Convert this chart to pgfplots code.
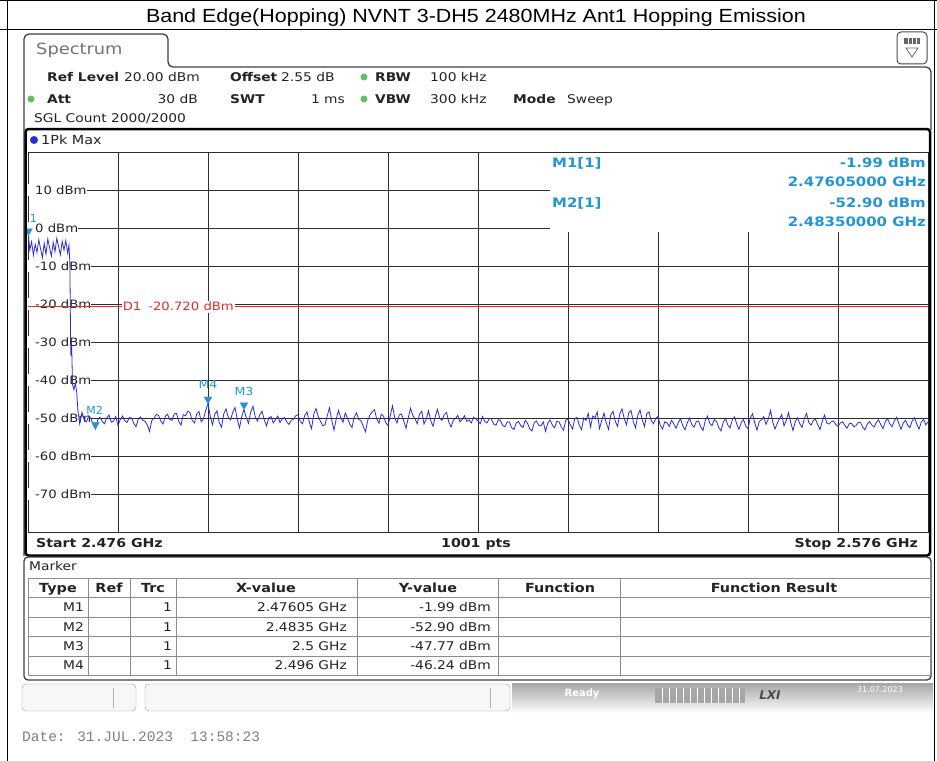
\documentclass[border=0pt]{standalone}
\usepackage{fontspec}
\setmainfont{DejaVu Sans}
\newfontfamily\arialf{Liberation Sans}
\newfontfamily\monof{Liberation Mono}
\usepackage{graphicx}
\usepackage{pgfplots}
\pgfplotsset{compat=1.18}
\definecolor{trc}{RGB}{45,45,215}
\definecolor{mk}{RGB}{35,150,210}
\definecolor{dl}{RGB}{225,45,45}
\definecolor{grd}{RGB}{45,45,45}
\definecolor{stx}{RGB}{35,35,35}
\definecolor{gdot}{RGB}{100,190,100}
\newcommand\fs[1]{\fontsize{#1bp}{#1bp}\selectfont}
\newcommand\st[1]{\scalebox{1.15}[1]{#1}}
\tikzset{ylab/.style={anchor=mid west,fill=white,inner xsep=0pt,inner ysep=1.5bp,font=\fs{11.5},text=stx,yshift=-1.5bp}}
\pgfplotstableread{
x y
2476.00 -3.2
2476.05 -1.99
2476.20 -5.8
2476.40 -3.6
2476.60 -7.1
2476.80 -4.3
2477.00 -6.4
2477.20 -3.1
2477.40 -5.5
2477.60 -7.8
2477.80 -4.0
2478.00 -6.9
2478.20 -2.9
2478.40 -5.2
2478.60 -7.4
2478.80 -3.8
2479.00 -6.2
2479.20 -2.7
2479.40 -4.9
2479.60 -7.0
2479.80 -3.5
2480.00 -5.8
2480.20 -3.3
2480.40 -6.6
2480.55 -4.5
2480.65 -9.0
2480.75 -33.5
2480.85 -31.0
2480.95 -41.2
2481.10 -42.6
2481.25 -40.8
2481.40 -42.9
2481.55 -48.2
2481.75 -51.6
2482.00 -48.5
2482.25 -50.6
2482.50 -51.0
2482.75 -49.4
2483.00 -50.2
2483.25 -51.7
2483.50 -52.9
2483.75 -50.5
2484.00 -49.8
2484.25 -50.9
2484.50 -51.5
2484.75 -50.0
2485.00 -49.2
2485.25 -51.1
2485.50 -50.8
2485.75 -49.6
2486.00 -52.0
2486.25 -50.4
2486.50 -49.5
2486.75 -50.7
2487.00 -51.2
2487.25 -49.9
2487.50 -50.0
2487.75 -51.4
2488.00 -52.3
2488.25 -50.3
2488.50 -49.7
2488.75 -50.6
2489.00 -50.9
2489.25 -51.8
2489.50 -53.5
2489.75 -50.7
2490.00 -50.1
2490.25 -49.0
2490.50 -49.3
2490.75 -50.8
2491.00 -51.6
2491.25 -49.6
2491.50 -49.0
2491.75 -50.4
2492.00 -50.6
2492.25 -48.9
2492.50 -48.8
2492.75 -50.9
2493.00 -51.9
2493.25 -49.1
2493.50 -49.4
2493.75 -48.2
2494.00 -48.6
2494.25 -50.7
2494.50 -51.3
2494.75 -48.9
2495.00 -48.3
2495.25 -51.0
2495.50 -50.2
2495.75 -48.0
2496.00 -46.24
2496.25 -49.5
2496.50 -51.8
2496.75 -49.0
2497.00 -48.1
2497.25 -51.2
2497.50 -52.4
2497.75 -48.9
2498.00 -47.6
2498.25 -49.8
2498.50 -50.5
2498.75 -48.5
2499.00 -47.2
2499.25 -50.3
2499.50 -52.6
2499.75 -49.6
2500.00 -47.77
2500.25 -49.9
2500.50 -51.4
2500.75 -48.4
2501.00 -46.9
2501.25 -49.7
2501.50 -50.8
2501.75 -49.2
2502.00 -48.2
2502.25 -50.5
2502.50 -52.1
2502.75 -50.0
2503.00 -49.6
2503.25 -51.3
2503.50 -50.4
2503.75 -49.5
2504.00 -51.2
2504.25 -50.2
2504.50 -49.9
2504.75 -51.0
2505.00 -51.7
2505.25 -50.6
2505.50 -50.3
2505.75 -49.4
2506.00 -49.1
2506.25 -50.9
2506.50 -51.5
2506.75 -49.3
2507.00 -48.4
2507.25 -51.0
2507.50 -52.8
2507.75 -49.0
2508.00 -47.5
2508.25 -49.6
2508.50 -50.9
2508.75 -52.0
2509.00 -51.8
2509.25 -49.4
2509.50 -47.3
2509.75 -50.6
2510.00 -53.2
2510.25 -50.2
2510.50 -48.0
2510.75 -49.9
2511.00 -51.1
2511.25 -48.7
2511.50 -50.0
2511.75 -51.6
2512.00 -52.5
2512.25 -49.8
2512.50 -48.6
2512.75 -50.4
2513.00 -50.7
2513.25 -52.2
2513.50 -53.6
2513.75 -50.6
2514.00 -49.2
2514.25 -48.3
2514.50 -47.8
2514.75 -50.3
2515.00 -51.4
2515.25 -49.0
2515.50 -49.5
2515.75 -51.2
2516.00 -52.0
2516.25 -49.4
2516.50 -46.8
2516.75 -49.9
2517.00 -51.3
2517.25 -49.2
2517.50 -48.9
2517.75 -50.8
2518.00 -52.7
2518.25 -50.0
2518.50 -47.4
2518.75 -49.3
2519.00 -50.2
2519.25 -51.5
2519.50 -49.0
2519.75 -48.2
2520.00 -51.6
2520.25 -50.3
2520.50 -48.1
2520.75 -50.7
2521.00 -52.2
2521.25 -49.6
2521.50 -47.7
2521.75 -50.1
2522.00 -50.6
2522.25 -49.1
2522.50 -48.5
2522.75 -51.0
2523.00 -52.4
2523.25 -50.6
2523.50 -50.1
2523.75 -49.3
2524.00 -51.0
2524.25 -50.4
2524.50 -49.4
2524.75 -50.9
2525.00 -50.5
2525.25 -51.3
2525.50 -49.8
2525.75 -50.2
2526.00 -50.8
2526.25 -51.5
2526.50 -49.6
2526.75 -50.9
2527.00 -51.3
2527.25 -50.1
2527.50 -50.3
2527.75 -51.6
2528.00 -51.9
2528.25 -50.4
2528.50 -50.7
2528.75 -52.0
2529.00 -52.3
2529.25 -51.0
2529.50 -51.1
2529.75 -52.6
2530.00 -53.0
2530.25 -51.3
2530.50 -50.9
2530.75 -52.0
2531.00 -52.5
2531.25 -50.6
2531.50 -51.4
2531.75 -52.9
2532.00 -53.4
2532.25 -51.2
2532.50 -50.8
2532.75 -51.9
2533.00 -52.1
2533.25 -51.0
2533.50 -53.5
2533.75 -51.4
2534.00 -50.5
2534.25 -51.8
2534.50 -52.6
2534.75 -50.9
2535.00 -51.0
2535.25 -52.3
2535.50 -53.2
2535.75 -50.6
2536.00 -50.3
2536.25 -51.7
2536.50 -52.9
2536.75 -50.2
2537.00 -49.8
2537.25 -51.9
2537.50 -53.1
2537.75 -50.0
2538.00 -50.6
2538.25 -48.8
2538.50 -52.4
2538.75 -49.5
2539.00 -49.9
2539.25 -48.4
2539.50 -52.8
2539.75 -50.6
2540.00 -48.7
2540.25 -51.3
2540.50 -53.0
2540.75 -49.2
2541.00 -48.2
2541.25 -50.8
2541.50 -52.2
2541.75 -49.0
2542.00 -47.6
2542.25 -50.2
2542.50 -51.8
2542.75 -48.6
2543.00 -48.0
2543.25 -50.9
2543.50 -52.6
2543.75 -49.3
2544.00 -47.9
2544.25 -50.5
2544.50 -52.3
2544.75 -48.8
2545.00 -48.4
2545.25 -50.7
2545.50 -51.5
2545.75 -50.1
2546.00 -49.6
2546.25 -51.9
2546.50 -52.9
2546.75 -51.0
2547.00 -51.3
2547.25 -52.2
2547.50 -50.6
2547.75 -51.5
2548.00 -52.7
2548.25 -51.2
2548.50 -50.2
2548.75 -52.0
2549.00 -53.1
2549.25 -51.3
2549.50 -50.0
2549.75 -51.7
2550.00 -52.4
2550.25 -51.0
2550.50 -50.8
2550.75 -52.3
2551.00 -53.3
2551.25 -50.7
2551.50 -49.5
2551.75 -51.4
2552.00 -52.0
2552.25 -50.4
2552.50 -50.9
2552.75 -52.5
2553.00 -53.4
2553.25 -51.1
2553.50 -50.1
2553.75 -51.8
2554.00 -52.6
2554.25 -50.5
2554.50 -49.7
2554.75 -51.6
2555.00 -53.0
2555.25 -51.2
2555.50 -50.4
2555.75 -52.1
2556.00 -52.8
2556.25 -50.0
2556.50 -48.9
2556.75 -51.3
2557.00 -53.2
2557.25 -50.9
2557.50 -50.5
2557.75 -49.6
2558.00 -51.7
2558.25 -50.3
2558.50 -48.0
2558.75 -51.1
2559.00 -52.9
2559.25 -51.4
2559.50 -50.2
2559.75 -49.1
2560.00 -52.1
2560.25 -50.6
2560.50 -48.6
2560.75 -51.2
2561.00 -53.3
2561.25 -51.0
2561.50 -49.9
2561.75 -51.5
2562.00 -52.5
2562.25 -50.2
2562.50 -48.8
2562.75 -51.1
2563.00 -51.9
2563.25 -50.7
2563.50 -50.3
2563.75 -51.8
2564.00 -53.0
2564.25 -50.9
2564.50 -49.2
2564.75 -51.3
2565.00 -51.6
2565.25 -51.0
2565.50 -50.8
2565.75 -51.7
2566.00 -52.2
2566.25 -51.3
2566.50 -51.0
2566.75 -51.9
2567.00 -52.7
2567.25 -51.5
2567.50 -51.4
2567.75 -52.3
2568.00 -52.0
2568.25 -51.1
2568.50 -51.2
2568.75 -52.4
2569.00 -53.1
2569.25 -51.6
2569.50 -50.9
2569.75 -51.8
2570.00 -52.4
2570.25 -51.2
2570.50 -50.5
2570.75 -51.7
2571.00 -52.8
2571.25 -51.0
2571.50 -50.1
2571.75 -51.5
2572.00 -52.3
2572.25 -50.8
2572.50 -49.8
2572.75 -51.4
2573.00 -53.0
2573.25 -51.3
2573.50 -50.6
2573.75 -51.9
2574.00 -52.5
2574.25 -50.7
2574.50 -49.9
2574.75 -51.6
2575.00 -52.9
2575.25 -51.1
2575.50 -50.3
2575.75 -51.8
2576.00 -51.0
}\trace
\begin{document}
\begin{tikzpicture}[x=1bp,y=-1bp,t/.style={inner sep=0pt,text=stx,yshift=-2bp}]
\useasboundingbox (0,0) rectangle (937,761);
\fill[white] (0,0) rectangle (937,761);
% document frame
\draw[line width=0.8bp] (0,0.5) -- (937,0.5);
\draw[line width=0.8bp] (0,29.5) -- (937,29.5);
\draw[line width=0.8bp] (7.5,0) -- (7.5,761);
\draw[line width=0.8bp] (934.5,0) -- (934.5,761);
\node[inner sep=0pt,font=\arialf\fs{19}] at (476,17.5) {\scalebox{1.13}[1]{Band Edge(Hopping) NVNT 3-DH5 2480MHz Ant1 Hopping Emission}};
\fill[white] (19,31) rectangle (933,716);
% tab and panel
\draw[line width=1.3bp,black!75,rounded corners=5bp] (24,556) -- (24,34) -- (168,34) -- (168,67) -- (931,67) -- (931,130);
\node[t,anchor=mid west,font=\fs{15.5},text=black!55] at (36,50) {\st{Spectrum}};
\draw[line width=1bp,black!70,rounded corners=4bp,fill=white] (897,32) rectangle (927,64);
\fill[black!60] (904,38) rectangle (920,44);
\draw[white,line width=0.8bp] (908,38)--(908,44) (912,38)--(912,44) (916,38)--(916,44);
\draw[black!60,line width=0.8bp] (906,48) -- (918,48) -- (912,57) -- cycle;
% header
\node[t,anchor=mid west,font=\fs{12}\bfseries] at (47,77) {\st{Ref Level}};
\node[t,anchor=mid west,font=\fs{12}] at (124,77) {\st{20.00 dBm}};
\node[t,anchor=mid west,font=\fs{12}\bfseries] at (230,77) {\st{Offset}};
\node[t,anchor=mid west,font=\fs{12}] at (281,77) {\st{2.55 dB}};
\fill[gdot] (364,77) circle (3.5);
\node[t,anchor=mid west,font=\fs{12}\bfseries] at (375,77) {\st{RBW}};
\node[t,anchor=mid west,font=\fs{12}] at (430,77) {\st{100 kHz}};
\fill[gdot] (31,99) circle (3.5);
\node[t,anchor=mid west,font=\fs{12}\bfseries] at (47,99) {\st{Att}};
\node[t,anchor=mid east,font=\fs{12}] at (198,99) {\st{30 dB}};
\node[t,anchor=mid west,font=\fs{12}\bfseries] at (230,99) {\st{SWT}};
\node[t,anchor=mid east,font=\fs{12}] at (345,99) {\st{1 ms}};
\fill[gdot] (364,99) circle (3.5);
\node[t,anchor=mid west,font=\fs{12}\bfseries] at (375,99) {\st{VBW}};
\node[t,anchor=mid west,font=\fs{12}] at (430,99) {\st{300 kHz}};
\node[t,anchor=mid west,font=\fs{12}\bfseries] at (513,99) {\st{Mode}};
\node[t,anchor=mid west,font=\fs{12}] at (567,99) {\st{Sweep}};
\node[t,anchor=mid west,font=\fs{12}] at (34,118) {\st{SGL Count 2000/2000}};
% diagram
\fill[trc] (34,140) circle (4);
\node[t,anchor=mid west,font=\fs{12.5}] at (41,140) {\st{1Pk Max}};
\begin{axis}[at={(28bp,-532bp)},anchor=south west,scale only axis,width=900bp,height=380bp,
 xmin=2476,xmax=2576,ymin=-80,ymax=20,
 xtick={2486,2496,...,2566},ytick={-70,-60,...,10},
 xticklabels={},yticklabels={},major tick length=0pt,
 grid=major,grid style={draw=grd,line width=0.9bp},
 axis line style={draw=grd,line width=0.9bp},clip=true]
\fill[white] (axis cs:2534,-1.05) rectangle (axis cs:2577,21);
\node[ylab] at (axis cs:2476,10) {\hspace{7bp}\st{10 dBm}\hspace{2bp}};
\node[ylab] at (axis cs:2476,0) {\hspace{7bp}\st{0 dBm}\hspace{2bp}};
\node[ylab] at (axis cs:2476,-10) {\hspace{7bp}\st{-10 dBm}\hspace{2bp}};
\node[ylab] at (axis cs:2476,-20) {\hspace{7bp}\st{-20 dBm}\hspace{2bp}};
\node[ylab] at (axis cs:2476,-30) {\hspace{7bp}\st{-30 dBm}\hspace{2bp}};
\node[ylab] at (axis cs:2476,-40) {\hspace{7bp}\st{-40 dBm}\hspace{2bp}};
\node[ylab] at (axis cs:2476,-50) {\hspace{7bp}\st{-50 dBm}\hspace{2bp}};
\node[ylab] at (axis cs:2476,-60) {\hspace{7bp}\st{-60 dBm}\hspace{2bp}};
\node[ylab] at (axis cs:2476,-70) {\hspace{7bp}\st{-70 dBm}\hspace{2bp}};
\draw[dl,line width=1bp] (axis cs:2476,-20.72) -- (axis cs:2576,-20.72);
\node[anchor=mid west,fill=white,inner xsep=1bp,inner ysep=1.5bp,font=\fs{11.5},text=dl,yshift=-1.5bp] at (axis cs:2486.4,-20.72) {\st{D1\hspace{6bp}-20.720 dBm}};
\addplot[trc,line width=0.8bp] table[x=x,y=y] {\trace};
\addplot[only marks,mark=triangle*,mark size=4.5bp,mark options={yshift=4.5bp,rotate=180,fill=mk,draw=mk}] coordinates {(2476.05,-1.99) (2483.5,-52.9) (2500,-47.77) (2496,-46.24)};
\node[font=\fs{11},text=mk,inner sep=0pt,anchor=mid,yshift=16bp] at (axis cs:2476.6,-1.99) {1};
\node[font=\fs{11},text=mk,inner sep=0pt,anchor=mid,yshift=17bp] at (axis cs:2483.4,-52.9) {M2};
\node[font=\fs{11},text=mk,inner sep=0pt,anchor=mid,yshift=17bp] at (axis cs:2500,-47.77) {\st{M3}};
\node[font=\fs{11},text=mk,inner sep=0pt,anchor=mid,yshift=17.5bp] at (axis cs:2496,-46.24) {\st{M4}};
\end{axis}
\draw[grd,line width=0.9bp] (28,152) -- (928,152) -- (928,532);
\draw[line width=2.5bp,black,rounded corners=3bp] (25.5,129) rectangle (930,555.5);
% marker info
\node[t,anchor=mid west,font=\fs{13}\bfseries,text=mk] at (552,163) {\st{M1[1]}};
\node[t,anchor=mid east,font=\fs{13}\bfseries,text=mk] at (926,163) {\st{-1.99 dBm}};
\node[t,anchor=mid east,font=\fs{13}\bfseries,text=mk] at (926,182) {\st{2.47605000 GHz}};
\node[t,anchor=mid west,font=\fs{13}\bfseries,text=mk] at (552,203) {\st{M2[1]}};
\node[t,anchor=mid east,font=\fs{13}\bfseries,text=mk] at (926,203) {\st{-52.90 dBm}};
\node[t,anchor=mid east,font=\fs{13}\bfseries,text=mk] at (926,222) {\st{2.48350000 GHz}};
% bottom of diagram
\node[t,anchor=mid west,font=\fs{12.3}\bfseries] at (36,543) {\st{Start 2.476 GHz}};
\node[t,anchor=mid,font=\fs{12.3}\bfseries] at (476,543) {\st{1001 pts}};
\node[t,anchor=mid east,font=\fs{12.3}\bfseries] at (918,543) {\st{Stop 2.576 GHz}};
% marker table
\draw[line width=1.3bp,black!75,rounded corners=4bp] (24,557) rectangle (931,680);
\node[t,anchor=mid west,font=\fs{12}] at (29,566) {\st{Marker}};
\draw[black!45,line width=0.8bp] (28,578) rectangle (930,675);
\foreach \yy in {597.5,617,636.5,656} \draw[black!45,line width=0.8bp] (28,\yy) -- (930,\yy);
\foreach \xx in {88,130,176,357,498,620} \draw[black!45,line width=0.8bp] (\xx,578) -- (\xx,675);
\node[t,anchor=mid,font=\fs{12.5}\bfseries] at (58,588) {\st{Type}};
\node[t,anchor=mid,font=\fs{12.5}\bfseries] at (109,588) {\st{Ref}};
\node[t,anchor=mid,font=\fs{12.5}\bfseries] at (153,588) {\st{Trc}};
\node[t,anchor=mid,font=\fs{12.5}\bfseries] at (266,588) {\st{X-value}};
\node[t,anchor=mid,font=\fs{12.5}\bfseries] at (428,588) {\st{Y-value}};
\node[t,anchor=mid,font=\fs{12.5}\bfseries] at (560,588) {\st{Function}};
\node[t,anchor=mid,font=\fs{12.5}\bfseries] at (774,588) {\st{Function Result}};
\node[t,anchor=mid east,font=\fs{12}] at (84,607) {\st{M1}};
\node[t,anchor=mid east,font=\fs{12}] at (172,607) {\st{1}};
\node[t,anchor=mid east,font=\fs{12}] at (347,607) {\st{2.47605 GHz}};
\node[t,anchor=mid east,font=\fs{12}] at (491,607) {\st{-1.99 dBm}};
\node[t,anchor=mid east,font=\fs{12}] at (84,627) {\st{M2}};
\node[t,anchor=mid east,font=\fs{12}] at (172,627) {\st{1}};
\node[t,anchor=mid east,font=\fs{12}] at (347,627) {\st{2.4835 GHz}};
\node[t,anchor=mid east,font=\fs{12}] at (491,627) {\st{-52.90 dBm}};
\node[t,anchor=mid east,font=\fs{12}] at (84,646) {\st{M3}};
\node[t,anchor=mid east,font=\fs{12}] at (172,646) {\st{1}};
\node[t,anchor=mid east,font=\fs{12}] at (347,646) {\st{2.5 GHz}};
\node[t,anchor=mid east,font=\fs{12}] at (491,646) {\st{-47.77 dBm}};
\node[t,anchor=mid east,font=\fs{12}] at (84,665) {\st{M4}};
\node[t,anchor=mid east,font=\fs{12}] at (172,665) {\st{1}};
\node[t,anchor=mid east,font=\fs{12}] at (347,665) {\st{2.496 GHz}};
\node[t,anchor=mid east,font=\fs{12}] at (491,665) {\st{-46.24 dBm}};
% status bar
\draw[black!40,rounded corners=4bp,fill=black!3] (22,684) rectangle (136,711);
\draw[black!30] (113,688) -- (113,708);
\draw[black!40,rounded corners=4bp,fill=black!3] (145,684) rectangle (510,711);
\draw[black!30] (490,688) -- (490,708);
\shade[top color=black!35,bottom color=white] (512,683) rectangle (933,713);
\node[font=\fs{10}\bfseries,text=white] at (582,694) {Ready};
\fill[black!35] (655,688) rectangle (745,703);
\foreach \xx in {662,669,676,683,690,697,704,711,718,725,732,739} \draw[white,line width=0.6bp] (\xx,688) -- (\xx,703);
\node[font=\fs{12}\bfseries\itshape,text=black!70] at (770,695) {LXI};
\node[font=\fs{8},text=white] at (880,690) {31.07.2023};
% date
\node[t,anchor=mid west,font=\monof\fs{14.5},text=black!50] at (22,737) {Date: 31.JUL.2023\ \ 13:58:23};
\end{tikzpicture}
\end{document}
